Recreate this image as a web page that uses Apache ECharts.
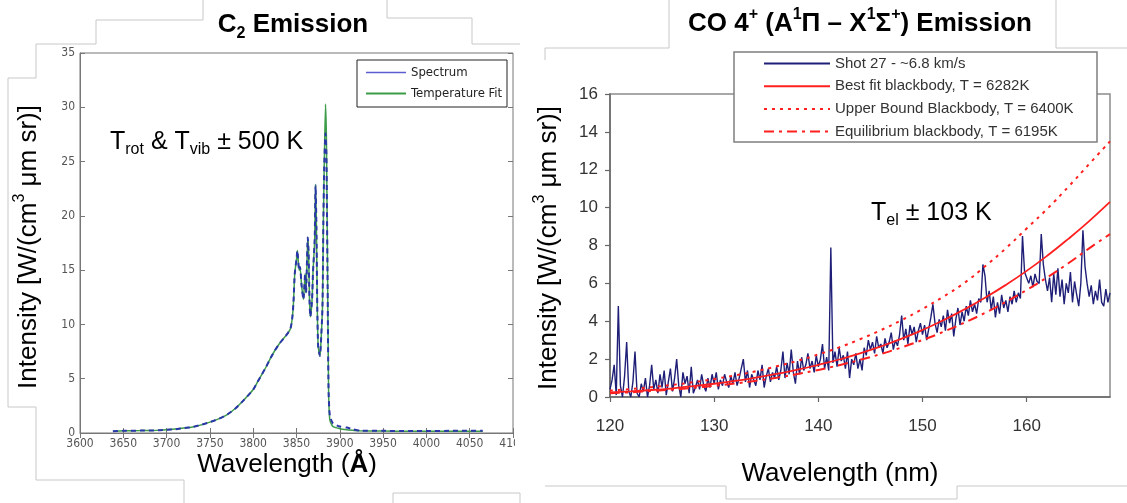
<!DOCTYPE html>
<html><head><meta charset="utf-8">
<script src="https://cdn.jsdelivr.net/npm/echarts@6/dist/echarts.min.js"></script>
<style>html,body{margin:0;padding:0;background:#fff;}#c{width:1127px;height:503px;}</style>
</head><body><div id="c"></div>
<script>
// ---------- Left chart: C2 emission ----------
const c2Wavelength = [3638,3650,3670,3690,3700,3710,3720,3730,3740,3750,3760,3770,3780,3790,3800,3805,3810,3815,3820,3825,3830,3835,3840,3843,3845,3846.5,3848,3850,3851,3853,3854,3856,3858,3860,3861,3863,3864,3865,3866,3868,3869,3871,3872,3873,3874,3875,3877,3878,3880,3881,3882,3883.5,3884.6,3885.8,3887,3888.5,3892,3900,3908,3915,3923,3950,3980,4000,4030,4065];
const c2Spectrum = [0.15,0.2,0.22,0.25,0.3,0.35,0.45,0.55,0.75,1.0,1.3,1.7,2.3,3.1,4.0,4.7,5.4,6.1,6.9,7.6,8.2,8.7,9.2,9.6,10.5,12.0,14.7,16.0,16.8,15.0,15.3,13.5,12.3,14.7,12.9,18.0,16.5,12.3,10.7,12.3,14.7,17.8,22.8,19.0,11.6,8.0,7.1,8.0,11.6,19.3,24.5,27.6,25.4,14.7,4.0,1.6,0.9,0.6,0.5,0.35,0.22,0.2,0.18,0.18,0.2,0.2];
const c2Fit = [0.15,0.2,0.22,0.25,0.3,0.36,0.45,0.56,0.75,1.0,1.3,1.7,2.3,3.1,4.0,4.7,5.4,6.1,6.9,7.6,8.2,8.7,9.2,9.6,10.5,12.0,14.7,16.0,16.8,15.0,15.3,13.5,12.3,14.7,12.9,18.0,16.5,12.3,10.7,12.3,14.7,17.8,22.9,19.0,11.6,8.0,7.1,8.0,11.6,19.3,24.5,30.3,26.8,15.5,4.2,1.2,0.6,0.4,0.3,0.25,0.2,0.18,0.15,0.15,0.15,0.15];
const c2XTicks = [3600,3650,3700,3750,3800,3850,3900,3950,4000,4050,4100];
const c2YTicks = [0,5,10,15,20,25,30,35];

// ---------- Right chart: CO 4+ emission ----------
const shotStart = 120, shotStep = 0.2;
const shotValues = [
0.4,0.9,1.7,0.1,4.8,0.6,0.0,1.1,2.9,0.3,
0.0,0.8,2.4,0.2,0.0,0.7,0.3,1.0,0.0,0.6,
1.7,0.4,0.9,0.2,1.2,0.5,1.4,0.1,0.8,1.5,
0.3,1.0,2.0,0.6,0.0,1.3,0.7,1.1,0.2,1.6,
0.2,0.5,0.9,0.4,1.2,0.6,0.3,1.0,0.5,1.2,
0.7,1.3,0.4,0.9,0.6,1.2,0.8,0.5,1.1,0.7,
1.3,0.6,1.0,1.5,2.0,0.8,1.4,0.5,1.2,0.9,
0.6,1.4,0.9,1.7,0.5,1.1,1.5,0.8,1.3,1.0,
1.6,0.9,1.4,2.4,1.0,1.8,1.2,2.5,1.3,0.7,
1.9,1.2,2.1,1.4,1.7,2.3,1.5,1.9,1.3,2.2,
1.6,2.0,2.8,1.5,2.1,1.4,7.9,1.8,2.4,1.6,
2.6,1.9,2.2,1.5,2.4,1.0,2.0,1.7,2.3,1.5,
2.0,1.4,2.6,2.2,3.0,2.5,2.9,2.3,3.2,2.6,
2.8,2.3,3.1,2.6,2.9,3.4,2.5,3.0,2.7,3.3,
4.3,3.0,3.6,2.8,3.8,3.3,3.7,2.9,3.5,3.9,
3.3,3.8,3.0,3.6,4.2,4.9,3.9,3.4,4.1,3.7,
4.3,3.5,4.6,3.9,4.4,3.2,4.1,4.7,3.8,4.5,
4.0,4.8,4.3,5.1,4.5,4.9,4.4,5.2,5.0,7.0,
6.4,5.0,5.6,4.6,5.3,4.2,5.0,4.4,5.4,4.7,
5.1,4.5,5.3,4.9,5.6,5.0,5.5,5.2,8.5,6.6,
6.3,6.0,6.4,5.8,6.5,6.1,6.0,8.6,7.0,6.2,
5.6,6.3,5.0,6.5,5.4,6.8,5.3,6.2,4.9,6.0,
5.5,6.6,5.0,6.1,5.4,4.8,6.0,8.8,6.9,6.0,
5.3,5.9,4.9,5.6,5.1,6.2,5.0,4.8,5.7,5.0,
5.5];
const bbWavelength = [120,122,124,126,128,130,132,134,136,138,140,142,144,146,148,150,152,154,156,158,160,162,164,166,168];
const bestFit   = [0.24,0.30,0.37,0.46,0.57,0.70,0.85,1.02,1.22,1.44,1.70,1.98,2.30,2.67,3.08,3.54,4.05,4.62,5.24,5.92,6.66,7.47,8.35,9.29,10.3];
const upperBound= [0.34,0.42,0.52,0.64,0.78,0.95,1.14,1.36,1.62,1.91,2.25,2.62,3.05,3.53,4.06,4.65,5.30,6.02,6.90,7.85,8.90,9.95,11.1,12.3,13.5];
const equilibrium=[0.20,0.25,0.32,0.39,0.48,0.59,0.71,0.86,1.02,1.21,1.43,1.68,1.96,2.27,2.62,3.01,3.44,3.92,4.44,5.02,5.65,6.33,7.06,7.85,8.60];
const coXTicks = [120,130,140,150,160];
const coXMax = 168;
const coYTicks = [0,2,4,6,8,10,12,14,16];

const names = {
  spectrum: 'Spectrum', fit: 'Temperature Fit',
  shot: 'Shot 27 - ~6.8 km/s',
  best: 'Best fit blackbody, T = 6282K',
  upper: 'Upper Bound Blackbody, T = 6400K',
  equil: 'Equilibrium blackbody, T = 6195K'
};

const zip = (xs, ys) => xs.map((x, i) => [x, ys[i]]);
const shotData = shotValues.map((v, i) => [+(shotStart + i * shotStep).toFixed(2), v]);

const SANS = "'Liberation Sans', Arial, sans-serif";
const NARROW = "'Liberation Sans Narrow', 'DejaVu Sans Condensed', 'Liberation Sans', Arial, sans-serif";
const red = '#ff1f1f';
const plain = v => String(v);
const hideSym = { opacity: 0, borderWidth: 0 };

const leftAxisCommon = (pos, labels) => ({
  gridIndex: 0, type: 'value', position: pos,
  axisLine: { show: labels, lineStyle: { color: '#777', width: 1 } },
  axisTick: { show: true, inside: true, length: 5, lineStyle: { color: '#777' } },
  axisLabel: { show: labels, color: '#555', fontSize: 12, fontFamily: NARROW, margin: 5, formatter: plain },
  splitLine: { show: false }
});

const chart = echarts.init(document.getElementById('c'), null, { renderer: 'canvas' });
const sup = (fs, lh) => ({ fontSize: fs, lineHeight: lh, verticalAlign: 'top', fontFamily: SANS, fill: '#000' });
const base = (fs, lh, bold) => ({ fontSize: fs, lineHeight: lh, verticalAlign: 'middle', fontFamily: SANS, fontWeight: bold ? 'bold' : 'normal' });

const grey = '#c8c8c8';
const deco = (pts) => ({ type: 'polyline', shape: { points: pts }, style: { stroke: grey, lineWidth: 1, fill: null }, z: 1, silent: true });

chart.setOption({
  animation: false,
  backgroundColor: '#fff',
  grid: [
    { left: 80, top: 53, width: 433, height: 380, show: true, borderColor: '#777', borderWidth: 1, backgroundColor: '#fff' },
    { left: 610, top: 94, width: 500, height: 303, show: true, borderColor: '#8c8c8c', borderWidth: 1.5, backgroundColor: '#fff' }
  ],
  xAxis: [
    Object.assign(leftAxisCommon('bottom', true), { min: c2XTicks[0], max: c2XTicks[c2XTicks.length - 1], interval: c2XTicks[1] - c2XTicks[0] }),
    Object.assign(leftAxisCommon('top', false), { min: c2XTicks[0], max: c2XTicks[c2XTicks.length - 1], interval: c2XTicks[1] - c2XTicks[0] }),
    {
      gridIndex: 1, type: 'value', position: 'bottom', min: coXTicks[0], max: coXMax, interval: coXTicks[1] - coXTicks[0],
      axisLine: { lineStyle: { color: '#666', width: 1.5 } },
      axisTick: { inside: false, length: 5, lineStyle: { color: '#666', width: 1.2 } },
      axisLabel: { color: '#333', fontSize: 17, fontFamily: SANS, margin: 21, showMaxLabel: false, formatter: plain },
      splitLine: { show: false }
    }
  ],
  yAxis: [
    Object.assign(leftAxisCommon('left', true), { min: c2YTicks[0], max: c2YTicks[c2YTicks.length - 1], interval: c2YTicks[1] - c2YTicks[0] }),
    Object.assign(leftAxisCommon('right', false), { min: c2YTicks[0], max: c2YTicks[c2YTicks.length - 1], interval: c2YTicks[1] - c2YTicks[0] }),
    {
      gridIndex: 1, type: 'value', position: 'left', min: coYTicks[0], max: coYTicks[coYTicks.length - 1], interval: coYTicks[1] - coYTicks[0],
      axisLine: { show: true, lineStyle: { color: '#666', width: 1.5 } },
      axisTick: { show: true, inside: false, length: 5, lineStyle: { color: '#666', width: 1.2 } },
      axisLabel: { color: '#333', fontSize: 17, fontFamily: SANS, margin: 12, formatter: plain },
      splitLine: { show: false }
    }
  ],
  legend: [
    {
      data: [
        { name: names.spectrum, itemStyle: hideSym, lineStyle: { type: 'solid', width: 1.5, color: '#5c5cd0' } },
        { name: names.fit, itemStyle: hideSym }
      ],
      itemStyle: hideSym,
      orient: 'vertical', left: 365, top: 66, itemWidth: 40, itemHeight: 14, itemGap: 8,
      padding: 0, selectedMode: false, z: 6,
      textStyle: { fontSize: 13, color: '#222', fontFamily: NARROW }
    },
    {
      data: [names.shot, names.best, names.upper, names.equil].map(n => ({ name: n, itemStyle: hideSym })),
      itemStyle: hideSym,
      orient: 'vertical', left: 763, top: 56, itemWidth: 66, itemHeight: 14, itemGap: 7.7,
      padding: 0, selectedMode: false, z: 6,
      textStyle: { fontSize: 15, color: '#333', fontFamily: SANS }
    }
  ],
  series: [
    { name: names.fit, type: 'line', xAxisIndex: 0, yAxisIndex: 0, data: zip(c2Wavelength, c2Fit), symbol: 'none', smooth: 0.2,
      color: '#3c9c48', lineStyle: { color: '#3c9c48', width: 1.5 }, z: 2 },
    { name: names.spectrum, type: 'line', xAxisIndex: 0, yAxisIndex: 0, data: zip(c2Wavelength, c2Spectrum), symbol: 'none', smooth: 0.2,
      color: '#2b36a8', lineStyle: { color: '#2b36a8', width: 2, type: [5, 4] }, z: 3 },
    { name: names.shot, type: 'line', xAxisIndex: 2, yAxisIndex: 2, data: shotData, symbol: 'none',
      color: '#1f1f78', lineStyle: { color: '#1f1f78', width: 1.4 }, z: 2 },
    { name: names.best, type: 'line', xAxisIndex: 2, yAxisIndex: 2, data: zip(bbWavelength, bestFit), symbol: 'none', smooth: true,
      color: red, lineStyle: { color: red, width: 1.8 }, z: 3 },
    { name: names.upper, type: 'line', xAxisIndex: 2, yAxisIndex: 2, data: zip(bbWavelength, upperBound), symbol: 'none', smooth: true,
      color: red, lineStyle: { color: red, width: 2, type: [3, 5] }, z: 3 },
    { name: names.equil, type: 'line', xAxisIndex: 2, yAxisIndex: 2, data: zip(bbWavelength, equilibrium), symbol: 'none', smooth: true,
      color: red, lineStyle: { color: red, width: 2, type: [10, 5, 3, 5] }, z: 3 }
  ],
  graphic: [
    // slide outline decorations
    deco([[96,44],[96,20],[203,20],[203,0]]),
    deco([[387,0],[387,18],[472,18],[472,44],[520,44]]),
    deco([[36,44],[96,44]]),
    deco([[36,44],[36,78],[8,78],[8,407],[36,407],[36,480],[184,480],[184,503]]),
    deco([[393,503],[393,493],[520,493],[520,503]]),
    deco([[545,60],[545,48],[669,48],[669,0]]),
    deco([[1056,0],[1056,48],[1127,48]]),
    deco([[545,486],[726,486],[726,499],[957,499],[957,486],[1127,486]]),
    // legend boxes
    { type: 'rect', shape: { x: 357, y: 60, width: 150, height: 47 }, style: { fill: '#fff', stroke: '#222', lineWidth: 1 }, z: 5 },
    { type: 'rect', shape: { x: 734, y: 52, width: 363, height: 90 }, style: { fill: '#fff', stroke: '#7f7f7f', lineWidth: 1.5 }, z: 5 },
    // clip of cut-off tick label
    { type: 'rect', shape: { x: 515, y: 436, width: 14, height: 16 }, style: { fill: '#fff' }, z: 50 },
    // titles
    { type: 'text', x: 293, y: 25, z: 20, style: {
      text: '{b|C}{bs|2}{b| Emission}', align: 'center', verticalAlign: 'middle', textAlign: 'center', textVerticalAlign: 'middle', fill: '#000',
      rich: { b: base(26, 34, true), bs: { fontSize: 16, lineHeight: 14, verticalAlign: 'bottom', fontFamily: SANS, fontWeight: 'bold' } } } },
    { type: 'text', x: 860, y: 24, z: 20, style: {
      text: '{b|CO 4}{p|+}{b| (A}{p|1}{b|Π – X}{p|1}{b|Σ}{p|+}{b|) Emission}', align: 'center', verticalAlign: 'middle', textAlign: 'center', textVerticalAlign: 'middle', fill: '#000',
      rich: { b: base(26, 34, true), p: Object.assign(sup(16, 14), { fontWeight: 'bold' }) } } },
    // annotations
    { type: 'text', x: 110, y: 142, z: 20, style: {
      text: '{n|T}{s|rot}{n| & T}{s|vib}{n| ± 500 K}', align: 'left', verticalAlign: 'middle', textAlign: 'left', textVerticalAlign: 'middle', fill: '#000',
      rich: { n: base(25, 32), s: { fontSize: 16, lineHeight: 14, verticalAlign: 'bottom', fontFamily: SANS } } } },
    { type: 'text', x: 871, y: 213, z: 20, style: {
      text: '{n|T}{s|el}{n| ± 103 K}', align: 'left', verticalAlign: 'middle', textAlign: 'left', textVerticalAlign: 'middle', fill: '#000',
      rich: { n: base(25, 32), s: { fontSize: 16, lineHeight: 14, verticalAlign: 'bottom', fontFamily: SANS } } } },
    // axis titles
    { type: 'text', x: 29, y: 247, rotation: Math.PI / 2, z: 20, style: {
      text: '{n|Intensity [W/(cm}{p|3}{n| μm sr)]}', align: 'center', verticalAlign: 'middle', textAlign: 'center', textVerticalAlign: 'middle', fill: '#000',
      rich: { n: base(26, 34), p: sup(16, 14) } } },
    { type: 'text', x: 549, y: 248, rotation: Math.PI / 2, z: 20, style: {
      text: '{n|Intensity [W/(cm}{p|3}{n| μm sr)]}', align: 'center', verticalAlign: 'middle', textAlign: 'center', textVerticalAlign: 'middle', fill: '#000',
      rich: { n: base(26, 34), p: sup(16, 14) } } },
    { type: 'text', x: 287, y: 465, z: 20, style: {
      text: '{n|Wavelength (}{b|Å}{n|)}', align: 'center', verticalAlign: 'middle', textAlign: 'center', textVerticalAlign: 'middle', fill: '#000',
      rich: { n: base(26, 34), b: base(26, 34, true) } } },
    { type: 'text', x: 840, y: 474, z: 20, style: {
      text: 'Wavelength (nm)', align: 'center', verticalAlign: 'middle', textAlign: 'center', textVerticalAlign: 'middle', fill: '#000',
      font: "26px 'Liberation Sans', Arial, sans-serif" } }
  ]
});
</script>
</body></html>
